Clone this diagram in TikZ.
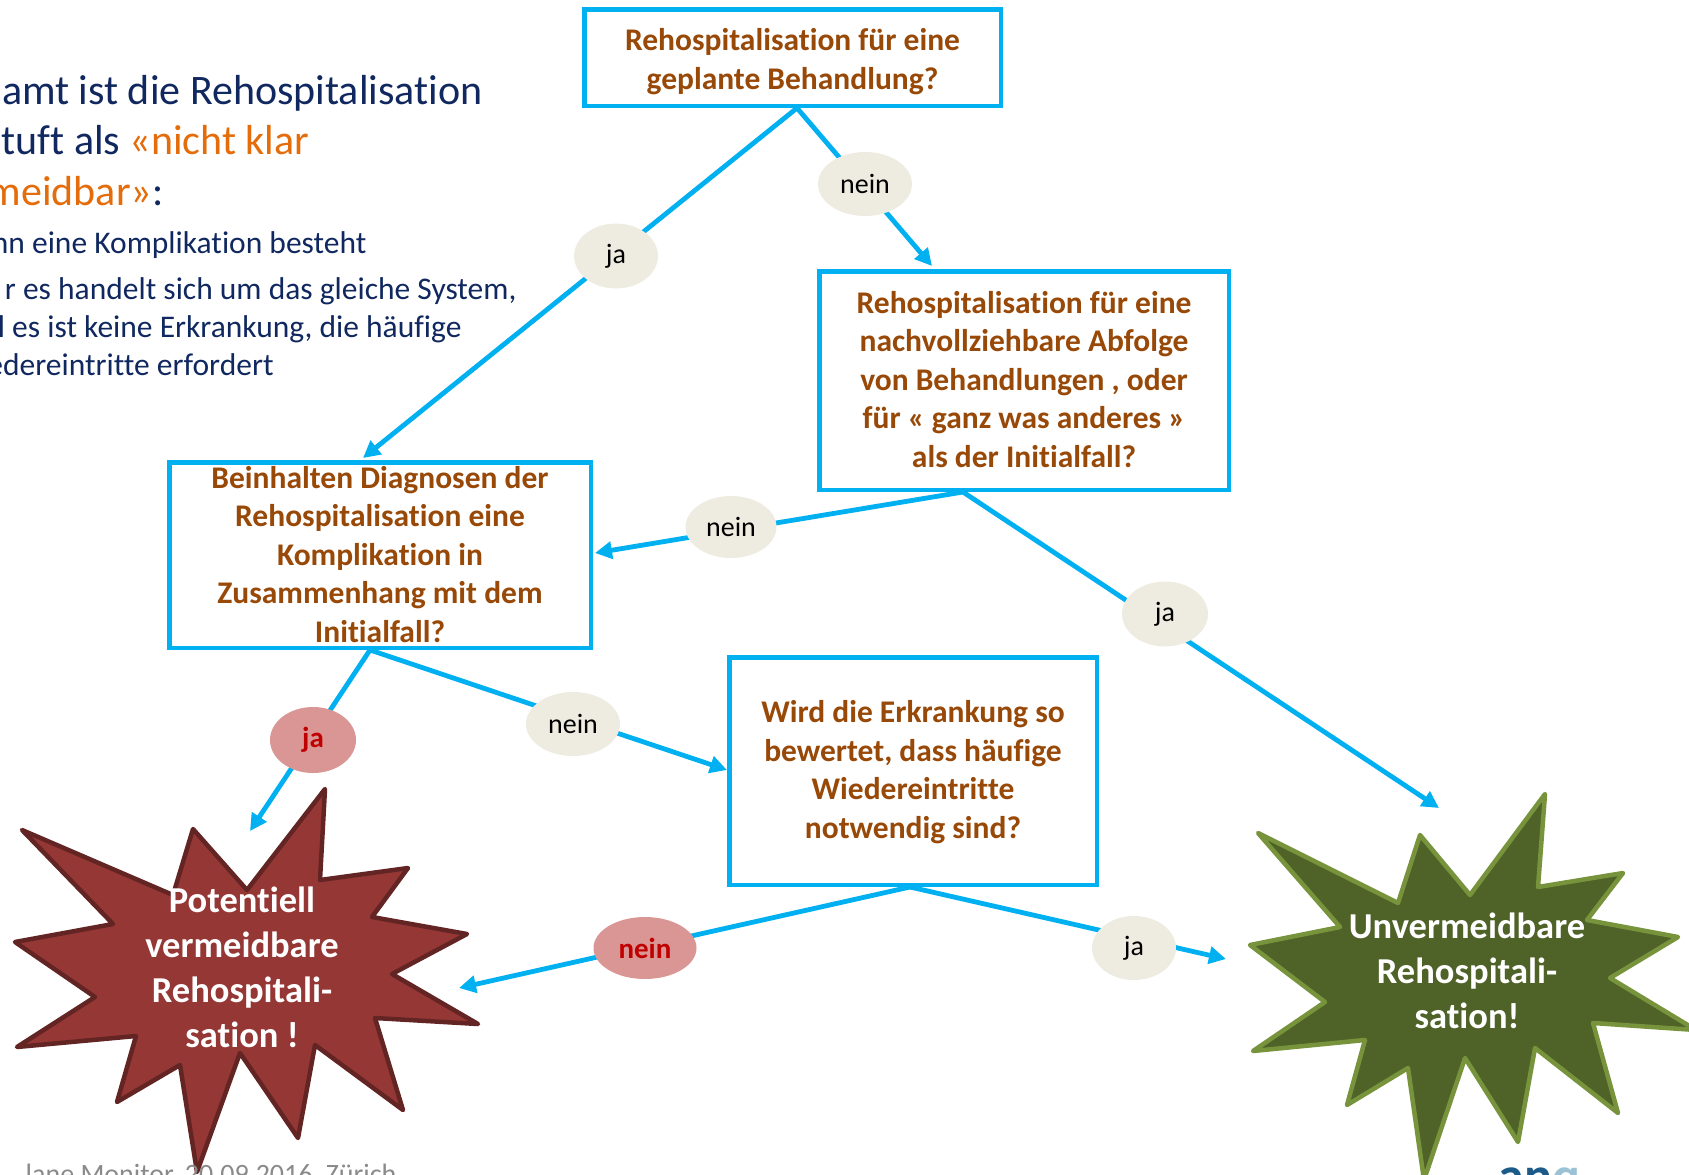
\documentclass[tikz,border=0pt]{standalone}
\usepackage{fontspec}
\setmainfont{Carlito}[Ligatures=NoCommon]
\usetikzlibrary{arrows.meta,shapes.geometric}

\definecolor{flowblue}{HTML}{00B0F0}
\definecolor{qtext}{HTML}{984807}
\definecolor{tagfill}{HTML}{EEECE1}
\definecolor{tagpink}{HTML}{D99694}
\definecolor{tagred}{HTML}{C00000}
\definecolor{redfill}{HTML}{953735}
\definecolor{redline}{HTML}{632523}
\definecolor{greenfill}{HTML}{4F6228}
\definecolor{greenline}{HTML}{77933C}
\definecolor{navy}{HTML}{10285F}
\definecolor{accentorange}{HTML}{E46C0A}
\definecolor{footgray}{HTML}{8A8A8A}
\definecolor{logoblue}{HTML}{1C5A8A}
\definecolor{logolight}{HTML}{9CC3D5}

\begin{document}
\begin{tikzpicture}[x=1pt,y=-1pt,
  qbox/.style={draw=flowblue, line width=4.5pt, fill=white, inner sep=0pt},
  % multi-line texts are placed by the baseline of their last line
  qtxt/.style={text=qtext, align=center, anchor=base,
               font=\bfseries\fontsize{31.5}{38.5}\selectfont},
  conn/.style={draw=flowblue, line width=4.8pt,
               -{Triangle[length=17pt,width=17pt]}},
  tag/.style={ellipse, fill=tagfill, inner sep=0pt, text=black,
              font=\fontsize{28}{30}\selectfont},
  tagstrong/.style={ellipse, fill=tagpink, inner sep=0pt, text=tagred,
              font=\bfseries\fontsize{29}{30}\selectfont},
  burst/.style={line width=4.5pt, line join=round},
  bursttxt/.style={text=white, align=center, anchor=base,
              font=\bfseries\fontsize{36.5}{45}\selectfont},
  title/.style={anchor=base east, text=navy, font=\fontsize{42}{50}\selectfont},
  bodytxt/.style={anchor=base east, text=navy, font=\fontsize{31.5}{38}\selectfont}
]
\useasboundingbox (0,0) rectangle (1689,1175);
\clip (0,0) rectangle (1689,1175);

% ---- side text ----
\node[title] (h1) at (486,104.5) {amt ist die Rehospitalisation};
\node[title] (h2) at (313,154) {stuft als \textcolor{accentorange}{«nicht klar}};
\node[title] (h3) at (167,205) {\textcolor{accentorange}{meidbar»}:};
\node[bodytxt] (l1) at (370,253) {nn eine Komplikation besteht};
\node[bodytxt] (l2) at (520,299.5) {r es handelt sich um das gleiche System,};
\node[bodytxt] (l3) at (465,337) {l es ist keine Erkrankung, die häufige};
\node[bodytxt] (l4) at (277,375) {edereintritte erfordert};

% ---- question boxes ----
\node[qbox, minimum width=416.5pt, minimum height=96.5pt] (b1) at (792.5,57.5) {};
\node[qbox, minimum width=409.5pt, minimum height=218.5pt] (b2) at (1024,380.5) {};
\node[qbox, minimum width=421.5pt, minimum height=185.5pt] (b3) at (380,555) {};
\node[qbox, minimum width=367.5pt, minimum height=227.5pt] (b4) at (913,771) {};

% ---- arrow end points ----
\coordinate (p1) at (363,458);
\coordinate (p2) at (932,266);
\coordinate (p3) at (595,553);
\coordinate (p4) at (1439,808);
\coordinate (p5) at (250,831);
\coordinate (p6) at (727,770);
\coordinate (p7) at (459,988);
\coordinate (p8) at (1226,959);

% ---- connectors ----
\draw[conn] ([xshift=4.5pt]b1.south) -- (p1);
\draw[conn] ([xshift=4.5pt]b1.south) -- (p2);
\draw[conn] ([xshift=-61pt]b2.south) -- (p3);
\draw[conn] ([xshift=-61pt]b2.south) -- (p4);
\draw[conn] ([xshift=-10pt]b3.south) -- (p5);
\draw[conn] ([xshift=-10pt]b3.south) -- (p6);
\draw[conn] ([xshift=-3pt]b4.south) -- (p7);
\draw[conn] ([xshift=-3pt]b4.south) -- (p8);

% ---- answer tags ----
\node[tag, minimum width=84pt, minimum height=65pt] (e1) at (616,256) {ja};
\node[tag, minimum width=94pt, minimum height=64pt] (e2) at (865,184) {nein};
\node[tag, minimum width=91pt, minimum height=62pt] (e3) at (731,527) {nein};
\node[tag, minimum width=86pt, minimum height=65pt] (e4) at (1165,614) {ja};
\node[tagstrong, minimum width=86pt, minimum height=66pt] (e5) at (313,740) {ja};
\node[tag, minimum width=94pt, minimum height=64pt] (e6) at (573,724) {nein};
\node[tagstrong, minimum width=103pt, minimum height=62pt] (e7) at (645,948) {nein};
\node[tag, minimum width=84pt, minimum height=64pt] (e8) at (1134,948) {ja};

% ---- box texts ----
\node[qtxt] (t1) at (792.5,89) {Rehospitalisation für eine\\geplante Behandlung?};
\node[qtxt] (t2) at (1024,467) {Rehospitalisation für eine\\nachvollziehbare Abfolge\\von Behandlungen , oder\\für « ganz was anderes »\\als der Initialfall?};
\node[qtxt] (t3) at (380,642) {Beinhalten Diagnosen der\\Rehospitalisation eine\\Komplikation in\\Zusammenhang mit dem\\Initialfall?};
\node[qtxt] (t4) at (913,838) {Wird die Erkrankung so\\bewertet, dass häufige\\Wiedereintritte\\notwendig sind?};

% ---- outcome bursts ----
\filldraw[burst, fill=redfill, draw=redline]
  (22,830) -- (113,924) -- (15,942) -- (95,997) -- (17,1047) -- (136,1036)
  -- (117,1102) -- (180,1065) -- (197,1172) -- (240,1053) -- (298,1138)
  -- (315,1045) -- (403,1110) -- (375,1018) -- (478,1024) -- (392,974)
  -- (467,934) -- (372,917) -- (408,868) -- (320,880) -- (325,789)
  -- (247,890) -- (193,829) -- (173,895) -- cycle;
\filldraw[burst, fill=greenfill, draw=greenline]
  (1258,833) -- (1340,927) -- (1250,945) -- (1325,1002) -- (1253,1051)
  -- (1365,1040) -- (1347,1105) -- (1408,1068) -- (1424,1180) -- (1465,1058)
  -- (1518,1142) -- (1535,1048) -- (1618,1113) -- (1593,1023) -- (1696,1030)
  -- (1610,978) -- (1678,937) -- (1587,920) -- (1623,873) -- (1538,887)
  -- (1545,794) -- (1470,895) -- (1420,835) -- (1398,903) -- cycle;

\node[bursttxt] (s1) at (242,1047) {Potentiell\\vermeidbare\\Rehospitali-\\sation !};
\node[bursttxt] (s2) at (1467,1028) {Unvermeidbare\\Rehospitali-\\sation!};

% ---- footer and logo ----
\node[anchor=base east, text=footgray, font=\fontsize{28}{30}\selectfont] (foot) at (400,1183) {lane Monitor, 20.09.2016, Zürich};
\node[anchor=base west, font=\bfseries\fontsize{52}{52}\selectfont] (logo) at (1495,1193) {\textcolor{logoblue}{an}\textcolor{logolight}{q}};
\end{tikzpicture}
\end{document}
